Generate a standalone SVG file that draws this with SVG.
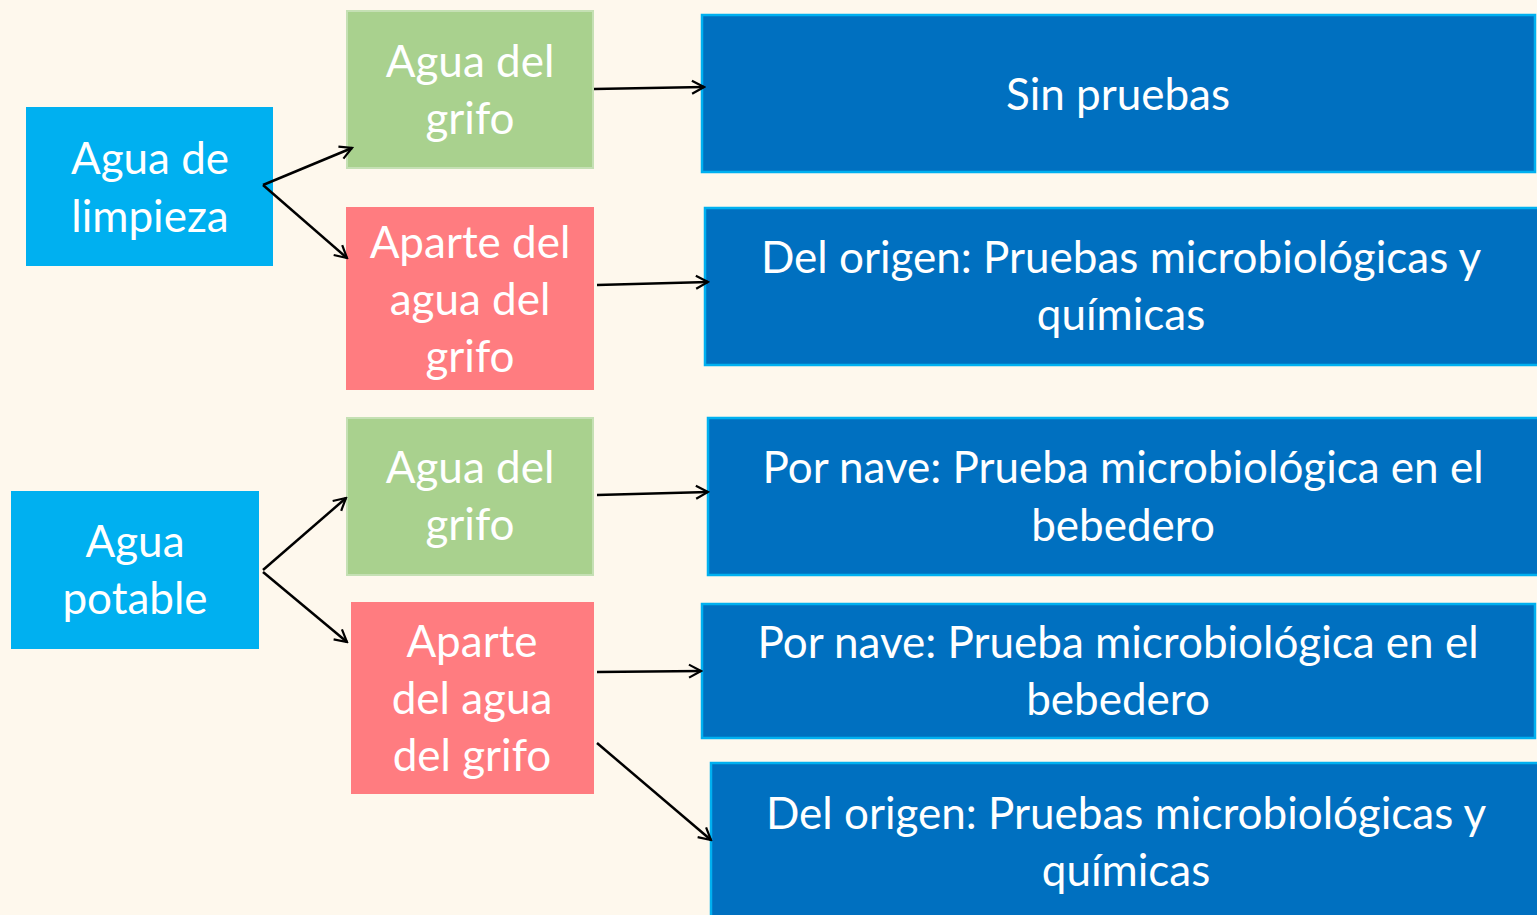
<svg xmlns="http://www.w3.org/2000/svg" width="1537" height="915" viewBox="0 0 1537 915">
<defs>
<marker id="arr" viewBox="0 0 16 16" refX="14" refY="8" markerWidth="16" markerHeight="16" markerUnits="userSpaceOnUse" orient="auto">
<path d="M2,1.5 L14,8 L2,14.5" fill="none" stroke="#000" stroke-width="2.2"/>
</marker>
<style>
.t{font-family:Lato,"Liberation Sans",sans-serif;font-size:44px;fill:#fff;text-anchor:middle}
.src{fill:#00B0F0}
.grn{fill:#A9D18E;stroke:#C5E0B4;stroke-width:2}
.red{fill:#FF7C80}
.blu{fill:#0070C0;stroke:#00B0F0;stroke-width:2.5}
.c{stroke:#000;stroke-width:2.5;fill:none;marker-end:url(#arr)}
</style>
</defs>
<rect width="1537" height="915" fill="#FEF8ED"/>
<g id="n-limpieza"><rect class="src" x="26" y="107" width="247" height="159"/>
<text class="t" x="150" y="174">Agua de</text><text class="t" x="150" y="232">limpieza</text></g>
<g id="n-grifo1"><rect class="grn" x="347" y="11" width="246" height="157"/>
<text class="t" x="470" y="77">Agua del</text><text class="t" x="470" y="134">grifo</text></g>
<g id="n-aparte1"><rect class="red" x="346" y="207" width="248" height="183"/>
<text class="t" x="470" y="258">Aparte del</text><text class="t" x="470" y="315">agua del</text><text class="t" x="470" y="372">grifo</text></g>
<g id="n-sin"><rect class="blu" x="702" y="15" width="833" height="157"/>
<text class="t" x="1118" y="110">Sin pruebas</text></g>
<g id="n-origen1"><rect class="blu" x="705" y="208" width="834" height="157"/>
<text class="t" x="1121" y="273">Del origen: Pruebas microbiológicas y</text><text class="t" x="1121" y="330">químicas</text></g>
<g id="n-potable"><rect class="src" x="11" y="491" width="248" height="158"/>
<text class="t" x="135" y="557">Agua</text><text class="t" x="135" y="614">potable</text></g>
<g id="n-grifo2"><rect class="grn" x="347" y="418" width="246" height="157"/>
<text class="t" x="470" y="483">Agua del</text><text class="t" x="470" y="540">grifo</text></g>
<g id="n-aparte2"><rect class="red" x="351" y="602" width="243" height="192"/>
<text class="t" x="472" y="657">Aparte</text><text class="t" x="472" y="714">del agua</text><text class="t" x="472" y="771">del grifo</text></g>
<g id="n-nave1"><rect class="blu" x="708" y="418" width="831" height="157"/>
<text class="t" x="1123" y="483">Por nave: Prueba microbiológica en el</text><text class="t" x="1123" y="541">bebedero</text></g>
<g id="n-nave2"><rect class="blu" x="702" y="604" width="833" height="134"/>
<text class="t" x="1118" y="658">Por nave: Prueba microbiológica en el</text><text class="t" x="1118" y="715">bebedero</text></g>
<g id="n-origen2"><rect class="blu" x="711" y="763" width="828" height="160"/>
<text class="t" x="1126" y="829">Del origen: Pruebas microbiológicas y</text><text class="t" x="1126" y="886">químicas</text></g>
<g id="connectors">
<line class="c" x1="263" y1="185" x2="352" y2="148"/>
<line class="c" x1="263" y1="185" x2="347" y2="258"/>
<line class="c" x1="594" y1="89" x2="704" y2="87"/>
<line class="c" x1="597" y1="285" x2="708" y2="282"/>
<line class="c" x1="263" y1="570" x2="346" y2="498"/>
<line class="c" x1="263" y1="572" x2="347" y2="642"/>
<line class="c" x1="597" y1="495" x2="708" y2="492"/>
<line class="c" x1="597" y1="672" x2="701" y2="671"/>
<line class="c" x1="597" y1="743" x2="711" y2="840"/>
</g>
</svg>
